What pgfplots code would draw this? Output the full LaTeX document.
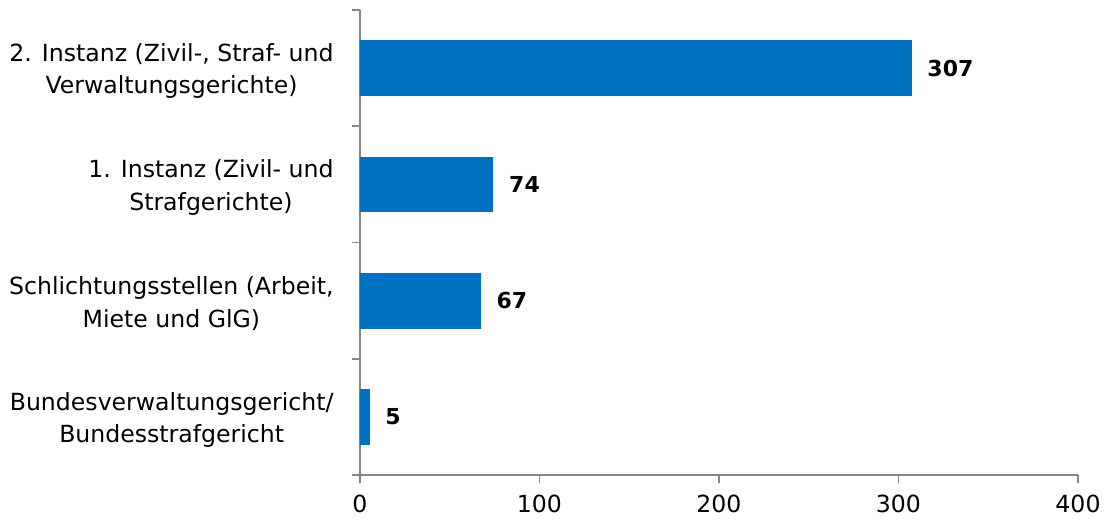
\documentclass[border=0pt]{standalone}
\usepackage{fontspec}
\setmainfont{DejaVu Sans}
\usepackage{pgfplots}
\pgfplotsset{compat=1.18}
\definecolor{barblue}{HTML}{0070C0}
\definecolor{axisgray}{HTML}{868686}
\begin{document}
\begin{tikzpicture}
\useasboundingbox (-180pt,-22pt) rectangle (373.5pt,237.5pt);
\begin{axis}[
  at={(0pt,0pt)}, anchor=south west,
  scale only axis, width=359pt, height=232.5pt,
  font=\fontsize{11.8pt}{15pt}\selectfont,
  /pgf/number format/assume math mode=true,
  xbar, bar width=0.47,
  xmin=0, xmax=400, ymin=-0.5, ymax=3.5,
  axis x line*=bottom, axis y line*=left,
  axis line style={draw=axisgray, line width=0.8pt, -},
  tick align=outside,
  major tick length=4pt, minor tick length=4pt,
  tick style={draw=axisgray, line width=0.8pt},
  xtick={0,100,200,300,400},
  ytick={0,1,2,3},
  minor ytick={-0.5,0.5,1.5,2.5,3.5},
  major y tick style={draw=none},
  yticklabels={{Bundesverwaltungsgericht/\\[1.2pt]Bundesstrafgericht},
               {Schlichtungsstellen (Arbeit,\\[1.2pt]Miete und GlG)},
               {1. Instanz (Zivil- und\\[1.2pt]Strafgerichte)},
               {2. Instanz (Zivil-, Straf- und\\[1.2pt]Verwaltungsgerichte)}},
  yticklabel style={align=center, inner sep=0pt, anchor=east, xshift=-9pt, yshift=-1.5pt},
  xticklabel style={inner sep=0pt, anchor=north, yshift=-6pt},
  nodes near coords,
  nodes near coords style={font=\fontsize{11pt}{14pt}\selectfont\bfseries, anchor=west, inner sep=0pt, xshift=8pt},
]
\addplot[fill=barblue, draw=barblue] coordinates {(5,0) (67,1) (74,2) (307,3)};
\end{axis}
\end{tikzpicture}
\end{document}
